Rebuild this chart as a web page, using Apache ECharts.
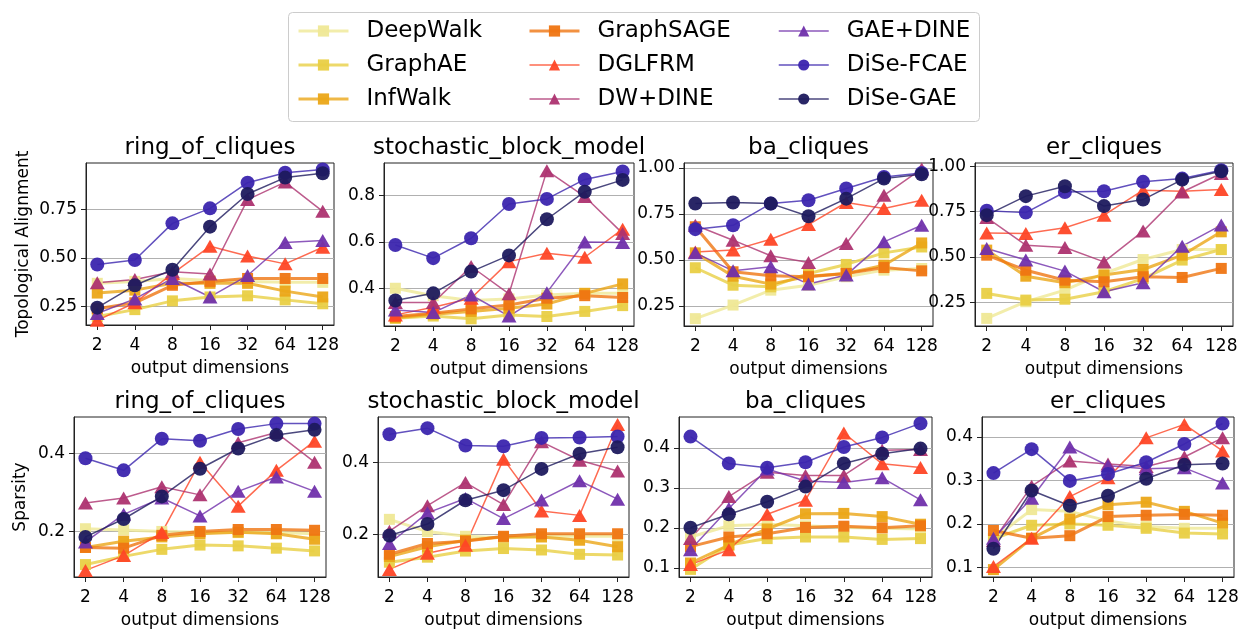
<!DOCTYPE html>
<html>
<head>
<meta charset="utf-8">
<script src="https://cdn.jsdelivr.net/npm/echarts@6/dist/echarts.min.js"></script>
<style>
html, body { margin: 0; padding: 0; background: #fff; }
#chart { width: 1242px; height: 630px; }
</style>
</head>
<body>
<div id="chart"></div>
<script>
var dims = ['2', '4', '8', '16', '32', '64', '128'];
var methods = ['DeepWalk', 'GraphAE', 'InfWalk', 'GraphSAGE', 'DGLFRM', 'DW+DINE', 'GAE+DINE', 'DiSe-FCAE', 'DiSe-GAE'];

// topological alignment, one row per method (same order as methods)
var taRing = [
    [0.37, 0.38, 0.395, 0.385, 0.38, 0.375, 0.375],
    [0.20, 0.235, 0.28, 0.30, 0.306, 0.285, 0.265],
    [0.32, 0.335, 0.37, 0.37, 0.37, 0.33, 0.30],
    [0.24, 0.27, 0.36, 0.38, 0.395, 0.395, 0.395],
    [0.18, 0.27, 0.42, 0.56, 0.51, 0.47, 0.555],
    [0.373, 0.39, 0.43, 0.418, 0.80, 0.89, 0.74],
    [0.215, 0.29, 0.395, 0.30, 0.41, 0.58, 0.59],
    [0.467, 0.49, 0.678, 0.755, 0.887, 0.938, 0.955],
    [0.245, 0.36, 0.44, 0.661, 0.829, 0.913, 0.935]
];
var taSbm = [
    [0.40, 0.368, 0.347, 0.354, 0.371, 0.378, 0.378],
    [0.27, 0.28, 0.268, 0.285, 0.278, 0.30, 0.325],
    [0.273, 0.288, 0.30, 0.314, 0.332, 0.378, 0.419],
    [0.278, 0.292, 0.311, 0.328, 0.357, 0.368, 0.36],
    [0.285, 0.318, 0.357, 0.515, 0.551, 0.534, 0.655],
    [0.338, 0.338, 0.494, 0.376, 0.908, 0.796, 0.637],
    [0.306, 0.295, 0.371, 0.28, 0.381, 0.60, 0.598],
    [0.587, 0.53, 0.616, 0.764, 0.786, 0.87, 0.904],
    [0.347, 0.378, 0.472, 0.542, 0.698, 0.817, 0.868]
];
var taBa = [
    [0.18, 0.254, 0.335, 0.362, 0.408, 0.444, 0.453],
    [0.457, 0.362, 0.353, 0.426, 0.475, 0.538, 0.57],
    [0.538, 0.411, 0.368, 0.411, 0.426, 0.471, 0.592],
    [0.68, 0.435, 0.413, 0.408, 0.426, 0.458, 0.44],
    [0.543, 0.553, 0.612, 0.692, 0.812, 0.779, 0.824],
    [0.688, 0.607, 0.522, 0.486, 0.589, 0.851, 0.995],
    [0.538, 0.44, 0.462, 0.368, 0.417, 0.598, 0.688],
    [0.667, 0.688, 0.806, 0.824, 0.888, 0.951, 0.973],
    [0.806, 0.812, 0.806, 0.737, 0.833, 0.942, 0.966]
];
var taEr = [
    [0.16, 0.252, 0.316, 0.408, 0.485, 0.54, 0.54],
    [0.298, 0.261, 0.266, 0.307, 0.38, 0.482, 0.54],
    [0.537, 0.393, 0.357, 0.399, 0.43, 0.509, 0.638],
    [0.509, 0.426, 0.371, 0.362, 0.39, 0.386, 0.436],
    [0.632, 0.629, 0.66, 0.73, 0.868, 0.862, 0.871],
    [0.717, 0.564, 0.551, 0.472, 0.642, 0.858, 0.96],
    [0.546, 0.482, 0.421, 0.307, 0.357, 0.559, 0.675],
    [0.754, 0.744, 0.858, 0.862, 0.914, 0.932, 0.978],
    [0.73, 0.835, 0.89, 0.78, 0.816, 0.926, 0.972]
];

// sparsity
var spRing = [
    [0.207, 0.204, 0.20, 0.198, 0.197, 0.197, 0.194],
    [0.115, 0.136, 0.154, 0.165, 0.163, 0.157, 0.15],
    [0.159, 0.175, 0.186, 0.194, 0.198, 0.194, 0.18],
    [0.159, 0.157, 0.19, 0.20, 0.205, 0.205, 0.203],
    [0.10, 0.138, 0.197, 0.378, 0.265, 0.357, 0.432],
    [0.273, 0.286, 0.315, 0.294, 0.428, 0.454, 0.378],
    [0.173, 0.244, 0.286, 0.24, 0.303, 0.34, 0.303],
    [0.388, 0.357, 0.438, 0.433, 0.463, 0.477, 0.477],
    [0.186, 0.232, 0.29, 0.361, 0.413, 0.448, 0.461]
];
var spSbm = [
    [0.242, 0.208, 0.195, 0.191, 0.195, 0.195, 0.195],
    [0.123, 0.137, 0.154, 0.161, 0.157, 0.145, 0.143],
    [0.139, 0.166, 0.184, 0.193, 0.193, 0.184, 0.166],
    [0.145, 0.175, 0.181, 0.195, 0.202, 0.202, 0.202],
    [0.103, 0.148, 0.17, 0.409, 0.265, 0.253, 0.505],
    [0.209, 0.28, 0.344, 0.283, 0.457, 0.406, 0.376],
    [0.175, 0.26, 0.30, 0.244, 0.296, 0.349, 0.298],
    [0.478, 0.495, 0.447, 0.445, 0.468, 0.469, 0.472],
    [0.197, 0.229, 0.295, 0.323, 0.382, 0.424, 0.442]
];
var spBa = [
    [0.177, 0.205, 0.209, 0.205, 0.201, 0.199, 0.197],
    [0.096, 0.157, 0.173, 0.177, 0.177, 0.171, 0.173],
    [0.112, 0.157, 0.197, 0.235, 0.236, 0.228, 0.209],
    [0.153, 0.177, 0.185, 0.201, 0.204, 0.20, 0.205],
    [0.108, 0.145, 0.234, 0.269, 0.437, 0.36, 0.351],
    [0.173, 0.278, 0.339, 0.331, 0.331, 0.394, 0.396],
    [0.145, 0.248, 0.347, 0.317, 0.313, 0.325, 0.27],
    [0.428, 0.361, 0.35, 0.364, 0.402, 0.426, 0.461],
    [0.20, 0.234, 0.265, 0.303, 0.361, 0.385, 0.398]
];
var spEr = [
    [0.166, 0.233, 0.229, 0.207, 0.194, 0.19, 0.19],
    [0.166, 0.197, 0.20, 0.197, 0.19, 0.179, 0.177],
    [0.095, 0.167, 0.211, 0.244, 0.25, 0.229, 0.202],
    [0.185, 0.167, 0.173, 0.217, 0.22, 0.222, 0.22],
    [0.102, 0.167, 0.263, 0.306, 0.398, 0.429, 0.368],
    [0.162, 0.287, 0.345, 0.338, 0.332, 0.354, 0.398],
    [0.167, 0.259, 0.377, 0.334, 0.327, 0.329, 0.294],
    [0.317, 0.372, 0.299, 0.315, 0.342, 0.384, 0.431],
    [0.143, 0.277, 0.242, 0.265, 0.304, 0.336, 0.339]
];

var taTicks = [0.25, 0.5, 0.75, 1.0];
var sbmTicks = [0.4, 0.6, 0.8];
var spTicks2 = [0.2, 0.4];
var spTicks4 = [0.1, 0.2, 0.3, 0.4];

var colores = ['#efe896', '#e9cf45', '#eba618', '#ef7512', '#fe4626', '#ad3370', '#7030ab', '#3b25ae', '#1e1a5e'];
var simbolos = ['rect', 'rect', 'rect', 'rect', 'triangle', 'triangle', 'triangle', 'circle', 'circle'];
var FONT = 'DejaVu Sans';

var paneles = [
    { titulo: 'ring_of_cliques', datos: taRing, box: [86, 163, 248, 162], y: [0.156, 0.988], ticks: [0.25, 0.5, 0.75], dec: 2, nombre: 'Topological Alignment', gap: 54 },
    { titulo: 'stochastic_block_model', datos: taSbm, box: [384, 163, 250, 163], y: [0.237, 0.941], ticks: sbmTicks, dec: 1 },
    { titulo: 'ba_cliques', datos: taBa, box: [684, 163, 249, 163], y: [0.14, 1.027], ticks: taTicks, dec: 2 },
    { titulo: 'er_cliques', datos: taEr, box: [975, 163, 258, 163], y: [0.118, 1.018], ticks: taTicks, dec: 2 },
    { titulo: 'ring_of_cliques', datos: spRing, box: [74, 417, 252, 164], y: [0.083, 0.494], ticks: spTicks2, dec: 1, nombre: 'Sparsity', gap: 45 },
    { titulo: 'stochastic_block_model', datos: spSbm, box: [378, 417, 251, 164], y: [0.082, 0.526], ticks: spTicks2, dec: 1 },
    { titulo: 'ba_cliques', datos: spBa, box: [679, 417, 253, 164], y: [0.077, 0.477], ticks: spTicks4, dec: 1 },
    { titulo: 'er_cliques', datos: spEr, box: [982, 417, 252, 164], y: [0.078, 0.446], ticks: spTicks4, dec: 1 }
];

var posiciones = [0, 1, 2, 3, 4, 5, 6];
var grids = [], xAxes = [], yAxes = [], titles = [], series = [];

paneles.forEach(function (p, i) {
    grids.push({
        left: p.box[0], top: p.box[1], width: p.box[2], height: p.box[3],
        show: true, borderColor: '#222', borderWidth: 1
    });
    titles.push({
        text: p.titulo,
        left: p.box[0] + p.box[2] / 2, top: p.box[1] - 26,
        textAlign: 'center', padding: 0,
        textStyle: { fontFamily: FONT, fontSize: 23, fontWeight: 'normal', color: '#000' }
    });
    xAxes.push({
        gridIndex: i, type: 'value', min: -0.3, max: 6.3,
        axisLine: { show: true, onZero: false, lineStyle: { color: '#222' } },
        axisTick: { show: true, customValues: posiciones, length: 5, lineStyle: { color: '#222' } },
        axisLabel: {
            customValues: posiciones, margin: 12,
            formatter: function (v) { return dims[Math.round(v)]; },
            fontFamily: FONT, fontSize: 17, color: '#000'
        },
        splitLine: { show: false },
        name: 'output dimensions', nameLocation: 'middle', nameGap: 35,
        nameTextStyle: { fontFamily: FONT, fontSize: 17, color: '#000' }
    });
    var ya = {
        gridIndex: i, type: 'value', min: p.y[0], max: p.y[1],
        axisLine: { show: true, onZero: false, lineStyle: { color: '#222' } },
        axisTick: { show: true, customValues: p.ticks, length: 5, lineStyle: { color: '#222' } },
        axisLabel: {
            customValues: p.ticks, margin: 9,
            formatter: (function (d) { return function (v) { return v.toFixed(d); }; })(p.dec),
            fontFamily: FONT, fontSize: 17, color: '#000'
        },
        splitLine: { show: true, lineStyle: { color: '#b0b0b0', width: 1 } }
    };
    if (p.nombre) {
        ya.name = p.nombre;
        ya.nameLocation = 'middle';
        ya.nameRotate = 90;
        ya.nameGap = p.gap;
        ya.nameTextStyle = { fontFamily: FONT, fontSize: 17, color: '#000' };
    }
    yAxes.push(ya);

    methods.forEach(function (m, j) {
        var size = simbolos[j] === 'rect' ? 11 : (simbolos[j] === 'triangle' ? [15, 13] : 14);
        series.push({
            type: 'line', name: m, xAxisIndex: i, yAxisIndex: i,
            data: p.datos[j].map(function (v, k) { return [k, v]; }),
            symbol: simbolos[j], symbolSize: size, showAllSymbol: true,
            lineStyle: { color: colores[j], width: j < 4 ? 3 : 1.5, opacity: 0.8 },
            itemStyle: { color: colores[j], opacity: 0.95 },
            emphasis: { disabled: true },
            animation: false
        });
    });
});

function leyenda(desde, x) {
    return {
        data: methods.slice(desde, desde + 3).map(function (m, k) {
            var j = desde + k;
            return { name: m, lineStyle: { width: j < 4 ? 3 : 1.5, color: colores[j], opacity: 0.8 } };
        }),
        left: x, top: 19, orient: 'vertical', padding: 0,
        itemWidth: 50, itemHeight: 14, itemGap: 10,
        textStyle: { fontFamily: FONT, fontSize: 23, color: '#000', lineHeight: 24, padding: [0, 0, 0, 13] },
        selectedMode: false
    };
}

var chart = echarts.init(document.getElementById('chart'));
chart.setOption({
    backgroundColor: '#fff',
    animation: false,
    title: titles,
    grid: grids,
    xAxis: xAxes,
    yAxis: yAxes,
    legend: [leyenda(0, 297), leyenda(3, 528), leyenda(6, 778)],
    graphic: [{
        type: 'rect', left: 288, top: 12, z: -1,
        shape: { width: 691, height: 109, r: 4 },
        style: { fill: '#fff', stroke: '#cccccc', lineWidth: 1 }
    }],
    series: series
});
</script>
</body>
</html>
